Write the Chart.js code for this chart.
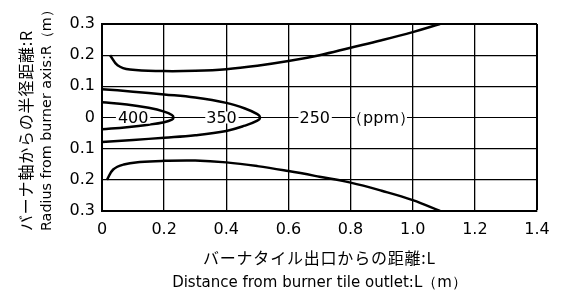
<!DOCTYPE html>
<html>
<head>
<meta charset="utf-8">
<script src="https://cdn.jsdelivr.net/npm/chart.js@4/dist/chart.umd.min.js"></script>
<style>
  html, body { margin: 0; padding: 0; background: #fff; }
  #wrap { width: 561px; height: 294px; }
</style>
</head>
<body>
<div id="wrap"><canvas id="c"></canvas></div>
<script>
// --- datos ---
const xTicks = ['0', '0.2', '0.4', '0.6', '0.8', '1.0', '1.2', '1.4'];

// contorno exterior superior e inferior (250 ppm)
const outerTopX = [0.026, 0.05, 0.09, 0.2, 0.3, 0.4, 0.5, 0.6, 0.7, 0.8, 0.9, 1.0, 1.088];
const outerTopY = [0.2, 0.168, 0.154, 0.149, 0.15, 0.155, 0.166, 0.181, 0.2, 0.224, 0.248, 0.274, 0.3];
const outerBotX = [0.016, 0.036, 0.07, 0.122, 0.2, 0.3, 0.4, 0.5, 0.6, 0.7, 0.8, 0.9, 1.0, 1.088];
const outerBotY = [-0.2, -0.167, -0.151, -0.143, -0.139, -0.138, -0.144, -0.156, -0.172, -0.19, -0.209, -0.235, -0.265, -0.3];

// 350 ppm
const c350X = [0, 0.1, 0.2, 0.3, 0.4, 0.46, 0.5, 0.509, 0.5, 0.46, 0.4, 0.3, 0.2, 0.1, 0];
const c350Y = [0.091, 0.083, 0.074, 0.064, 0.047, 0.029, 0.011, 0, -0.01, -0.026, -0.043, -0.057, -0.065, -0.072, -0.079];

// 400 ppm
const c400X = [0, 0.08, 0.15, 0.2, 0.225, 0.23, 0.225, 0.2, 0.15, 0.08, 0];
const c400Y = [0.049, 0.042, 0.031, 0.019, 0.008, 0, -0.007, -0.015, -0.023, -0.031, -0.038];

// etiquetas sobre el eje R = 0
const ppmText = ['400', '350', '250', '（ppm）'];
const ppmAtX = [0.1, 0.386, 0.686, 0.898];

const toPts = (xs, ys) => xs.map((x, i) => ({ x: x, y: ys[i] }));

const FONT = '"DejaVu Sans", "Liberation Sans", Arial, sans-serif';
const JFONT = '"Noto Sans CJK JP", "DejaVu Sans", sans-serif';

function linea(xs, ys) {
    return {
        data: toPts(xs, ys),
        showLine: true,
        borderColor: '#000',
        borderWidth: 2.5,
        pointRadius: 0,
        tension: 0.4,
        fill: false
    };
}

// etiquetas ppm y títulos de ejes
const extras = {
    id: 'extras',
    afterDatasetsDraw(chart) {
        const ctx = chart.ctx;
        const sx = chart.scales.x, sy = chart.scales.y;
        const y0 = sy.getPixelForValue(0);
        ctx.save();
        ctx.font = '16px ' + FONT;
        ctx.textAlign = 'left';
        ctx.textBaseline = 'middle';
        ppmText.forEach((t, i) => {
            const px = sx.getPixelForValue(ppmAtX[i]);
            const m = ctx.measureText(t);
            const l = -m.actualBoundingBoxLeft, r = m.actualBoundingBoxRight;
            const ox = px - (l + r) / 2;   // centrar la tinta
            ctx.fillStyle = '#fff';
            ctx.fillRect(ox + l - 2, y0 - 6, (r - l) + 4, 12);
            ctx.fillStyle = '#000';
            ctx.fillText(t, ox, y0 + 1);
        });

        // título eje X
        ctx.textAlign = 'center';
        const cx = (chart.chartArea.left + chart.chartArea.right) / 2;
        ctx.letterSpacing = '0.8px';
        ctx.font = '16px ' + JFONT;
        ctx.fillText('バーナタイル出口からの距離:L', cx, 258);
        ctx.letterSpacing = '0px';
        ctx.font = '15px ' + FONT;
        ctx.fillText('Distance from burner tile outlet:L（m）', cx, 283);

        // título eje Y (rotado, alineado abajo)
        ctx.translate(0, 231);
        ctx.rotate(-Math.PI / 2);
        ctx.textAlign = 'left';
        ctx.letterSpacing = '0.8px';
        ctx.font = '16px ' + JFONT;
        ctx.fillText('バーナ軸からの半径距離:R', 0, 26);
        ctx.letterSpacing = '0px';
        ctx.font = '14.3px ' + FONT;
        ctx.fillText('Radius from burner axis:R（m）', 0, 47);
        ctx.restore();
    }
};

new Chart(document.getElementById('c'), {
    type: 'scatter',
    data: {
        datasets: [
            linea(outerTopX, outerTopY),
            linea(outerBotX, outerBotY),
            linea(c350X, c350Y),
            linea(c400X, c400Y)
        ]
    },
    options: {
        responsive: true,
        maintainAspectRatio: false,
        animation: false,
        layout: { padding: { left: 0, right: 24, top: 24, bottom: 0 } },
        plugins: { legend: { display: false }, tooltip: { enabled: false } },
        scales: {
            x: {
                type: 'linear', min: 0, max: 1.4,
                afterFit: s => { s.height = 83; },
                afterBuildTicks: s => { s.ticks = xTicks.map(v => ({ value: parseFloat(v) })); },
                ticks: {
                    color: '#000', padding: 9,
                    font: { size: 16, family: FONT },
                    callback: (v, i) => xTicks[i]
                },
                grid: {
                    color: '#000', drawTicks: false,
                    lineWidth: c => (c.tick && Math.abs(c.tick.value - 1.4) < 1e-6) ? 2 : 1.3
                },
                border: { color: '#000', width: 2 }
            },
            y: {
                type: 'linear', min: -0.3, max: 0.3,
                afterFit: s => { s.width = 102; },
                ticks: {
                    stepSize: 0.1, color: '#000', padding: 7,
                    font: { size: 16, family: FONT },
                    callback: v => Math.abs(v) < 1e-6 ? '0' : Math.abs(v).toFixed(1)
                },
                grid: {
                    color: '#000', drawTicks: false,
                    lineWidth: c => {
                        if (!c.tick) return 1.3;
                        if (Math.abs(Math.abs(c.tick.value) - 0.3) < 1e-6) return 2;
                        if (Math.abs(c.tick.value) < 1e-6) return 1;
                        return 1.3;
                    }
                },
                border: { color: '#000', width: 2 }
            }
        }
    },
    plugins: [extras]
});
</script>
</body>
</html>
